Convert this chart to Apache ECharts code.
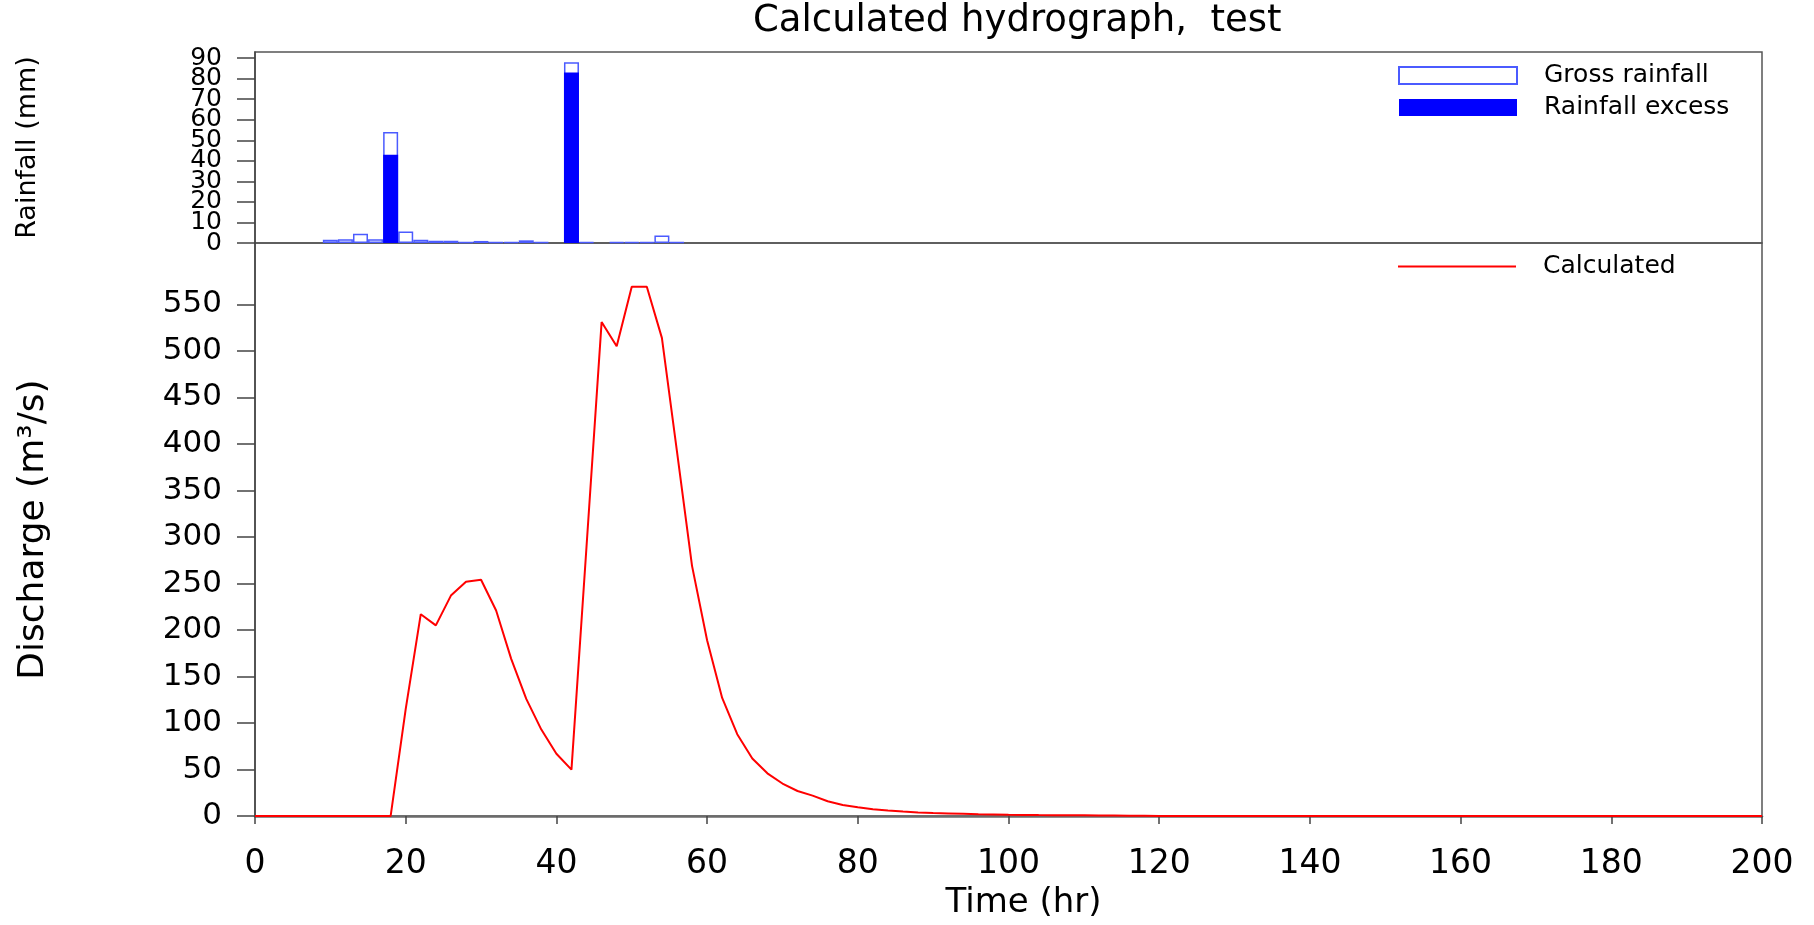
<!DOCTYPE html>
<html>
<head>
<meta charset="utf-8">
<script src="https://cdn.jsdelivr.net/npm/echarts@6/dist/echarts.min.js"></script>
<style>
html,body{margin:0;padding:0;background:#fff;}
#c{width:1814px;height:925px;}
</style>
</head>
<body>
<div id="c"></div>
<script>
// ---- data ----
const timeHr = [0,2,4,6,8,10,12,14,16,18,20,22,24,26,28,30,32,34,36,38,40,42,44,46,48,50,52,54,56,58,60,62,64,66,68,70,72,74,76,78,80,82,84,86,88,90,92,94,96,98,100,102,104,106,108,110,112,114,116,118,120,200];
const discharge = [0,0,0,0,0,0,0,0,0,0,115,217,205,237,252,254,221,169,126,93,67,50,290,531,505,569,569,514,392,269,189,127,88,62,46,35,27,22,16,12,9.5,7.4,6.1,4.9,3.9,3.3,2.9,2.5,2.1,1.8,1.5,1.3,1.1,1.0,0.9,0.8,0.7,0.6,0.5,0.5,0,0];

const rainTime = [10,12,14,16,18,20,22,24,26,28,30,32,34,36,38,40,42,44,46,48,50,52,54,56];
const grossRain = [1.6,1.8,4.5,1.8,54,5.6,1.6,1.1,1.1,0.4,1.0,0.4,0.4,1.3,0.4,0,88,0.4,0,0.4,0.4,0.4,3.7,0.4];
const excessRain = [0,0,0,0,43,0,0,0,0,0,0,0,0,0,0,0,83,0,0,0,0,0,0,0];

const timeTicks = [0,20,40,60,80,100,120,140,160,180,200];
const rainTicks = [0,10,20,30,40,50,60,70,80,90];
const dischargeTicks = [0,50,100,150,200,250,300,350,400,450,500,550];

const FONT = "'DejaVu Sans', sans-serif";

const pairs = (xs, ys) => xs.map((x, i) => [x, ys[i]]).filter(p => p[1] > 0);
// rainfall labels are drawn by two overlaid axes so the tightly packed labels are all kept
const rainLabelsA = rainTicks.filter((v, i) => i % 2 === 0);
const rainLabelsB = rainTicks.filter((v, i) => i % 2 === 1);

const rainLabelStyle = {margin: 33, fontFamily: FONT, fontSize: 25, color: '#000', showMinLabel: true, showMaxLabel: true, hideOverlap: false};

const chart = echarts.init(document.getElementById('c'), null, {renderer: 'canvas'});
const option = {
  animation: false,
  backgroundColor: '#fff',
  textStyle: {fontFamily: FONT, color: '#000'},
  title: {
    text: 'Calculated hydrograph,  test',
    left: 748, top: -2,
    textStyle: {fontFamily: FONT, fontSize: 37, fontWeight: 'normal', color: '#000'}
  },
  legend: [
    {
      data: ['Gross rainfall', 'Rainfall excess'],
      orient: 'vertical', left: 1398, top: 63, padding: 0, itemGap: 7,
      itemWidth: 118, itemHeight: 17, icon: 'rect', selectedMode: false,
      textStyle: {fontFamily: FONT, fontSize: 25, color: '#000', padding: [0, 0, 0, 22]}
    },
    {
      data: [{name: 'Calculated', icon: 'rect', itemStyle: {color: '#ff0000'}}],
      orient: 'vertical', left: 1398, top: 254, padding: 0,
      itemWidth: 118, itemHeight: 2, selectedMode: false,
      textStyle: {fontFamily: FONT, fontSize: 25, color: '#000', padding: [0, 0, 0, 22]}
    }
  ],
  grid: [
    {left: 255, right: 52, top: 52, height: 191, show: true, borderColor: '#555', borderWidth: 1.5, backgroundColor: 'transparent'},
    {left: 255, right: 52, top: 243, height: 574, show: true, borderColor: '#555', borderWidth: 1.5, backgroundColor: 'transparent'}
  ],
  xAxis: [
    {
      gridIndex: 0, type: 'value', min: 0, max: 200, interval: 20,
      axisLine: {show: false}, axisTick: {show: false}, axisLabel: {show: false}, splitLine: {show: false}
    },
    {
      gridIndex: 1, type: 'value', min: 0, max: 200, interval: 20,
      name: 'Time (hr)', nameLocation: 'middle', nameGap: 68,
      nameTextStyle: {fontFamily: FONT, fontSize: 34, color: '#000', padding: [0, 0, 0, 30]},
      axisLine: {show: true, onZero: false, lineStyle: {color: '#6b6b6b', width: 2.5}},
      axisTick: {show: true, length: 8, customValues: timeTicks, lineStyle: {color: '#444', width: 1.5}},
      axisLabel: {customValues: timeTicks, margin: 32, fontFamily: FONT, fontSize: 33, color: '#000', showMinLabel: true, showMaxLabel: true},
      splitLine: {show: false}
    }
  ],
  yAxis: [
    {
      gridIndex: 0, type: 'value', min: 0, max: 93, position: 'left', offset: 0,
      name: 'Rainfall (mm)', nameLocation: 'middle', nameGap: 214,
      nameTextStyle: {fontFamily: FONT, fontSize: 27, color: '#000'},
      axisLine: {show: true, lineStyle: {color: '#444', width: 1.5}},
      axisTick: {show: true, length: 18, customValues: rainTicks, lineStyle: {color: '#444', width: 1.5}},
      axisLabel: Object.assign({customValues: rainLabelsA}, rainLabelStyle),
      splitLine: {show: false}
    },
    {
      gridIndex: 1, type: 'value', min: 0, max: 616,
      name: 'Discharge (m³/s)', nameLocation: 'middle', nameGap: 203,
      nameTextStyle: {fontFamily: FONT, fontSize: 36, color: '#000'},
      axisLine: {show: true, lineStyle: {color: '#444', width: 1.5}},
      axisTick: {show: true, length: 18, customValues: dischargeTicks, lineStyle: {color: '#444', width: 1.5}},
      axisLabel: {customValues: dischargeTicks, margin: 33, fontFamily: FONT, fontSize: 31, color: '#000', showMinLabel: true, showMaxLabel: true},
      splitLine: {show: false}
    },
    {
      gridIndex: 0, type: 'value', min: 0, max: 93, position: 'left', offset: 0,
      axisLine: {show: false}, axisTick: {show: false},
      axisLabel: Object.assign({customValues: rainLabelsB}, rainLabelStyle),
      splitLine: {show: false}
    }
  ],
  series: [
    {
      name: 'Gross rainfall', type: 'bar', xAxisIndex: 0, yAxisIndex: 0,
      data: pairs(rainTime, grossRain), barWidth: 15, barGap: '-100%',
      itemStyle: {color: '#ffffff', borderColor: '#4b5bff', borderWidth: 1.5}
    },
    {
      name: 'Rainfall excess', type: 'bar', xAxisIndex: 0, yAxisIndex: 0,
      data: pairs(rainTime, excessRain), barWidth: 15, barGap: '-100%',
      itemStyle: {color: '#0000ff'}
    },
    {
      name: 'Calculated', type: 'line', xAxisIndex: 1, yAxisIndex: 1,
      data: timeHr.map((t, i) => [t, discharge[i]]),
      symbol: 'none', clip: false,
      lineStyle: {color: '#ff0000', width: 2}, itemStyle: {color: '#ff0000'}
    }
  ]
};
chart.setOption(option);
</script>
</body>
</html>
